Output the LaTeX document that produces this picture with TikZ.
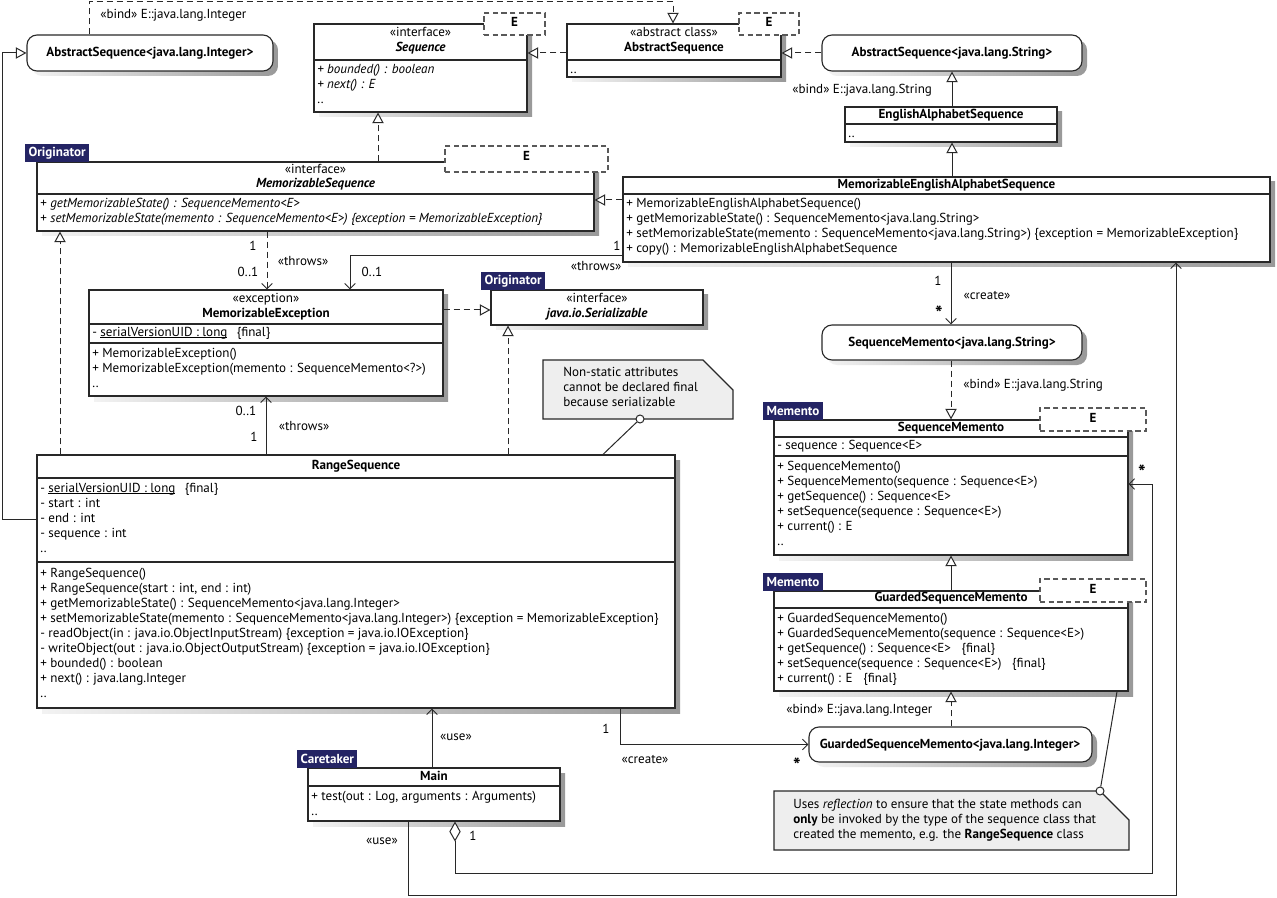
\documentclass[tikz,border=0pt]{standalone}
\usepackage{fontspec}
\setmainfont{PT Sans}
\usetikzlibrary{arrows.meta,fit}
\definecolor{tagblue}{RGB}{36,36,100}
\definecolor{notegray}{RGB}{238,238,238}
\definecolor{ink}{RGB}{40,40,40}
\newcommand\fs{\fontsize{9.8pt}{11pt}\selectfont}
\newcommand\uln[1]{\begingroup\setbox0\hbox{#1}\rlap{\rule[-1.3pt]{\wd0}{0.55pt}}\box0\endgroup}
\newcommand\mstar{\raisebox{-4.2pt}{\fontsize{15pt}{15pt}\selectfont\bfseries *}}
\tikzset{
  box/.style={draw=ink, fill=white, line width=0.85pt, inner sep=0pt},
  rbox/.style={box, rounded corners=7.5pt},
  tparam/.style={draw=black!65, dash pattern=on 4pt off 2.5pt, fill=white, line width=0.85pt, inner sep=0pt},
  mem/.style={anchor=west, inner sep=0pt, font=\fs, text height=7pt, text depth=2pt},
  ttl/.style={inner sep=0pt, font=\fs\bfseries, text height=7pt, text depth=2pt},
  lbl/.style={inner sep=0pt, font=\fs, text height=7pt, text depth=2pt},
  stereo/.style={fill=tagblue, text=white, font=\fs\bfseries, inner xsep=2.5pt, inner ysep=0pt, minimum height=13.5pt, anchor=south west},
  divl/.style={draw=ink, line width=0.85pt},
  conn/.style={draw=ink, line width=0.75pt},
  dsh/.style={dash pattern=on 4.5pt off 3pt},
  gtip/.style={-{Triangle[open,fill=white,length=8pt,width=8.5pt]}},
  otip/.style={-{Straight Barb[length=4pt,width=8pt]}},
  gen/.style={conn,gtip},
  real/.style={conn,dsh,gtip},
  dep/.style={conn,otip},
  depd/.style={conn,dsh,otip},
  agg/.style={conn,{Diamond[open,fill=white,length=15pt,width=8.5pt]}-{Straight Barb[length=4pt,width=8pt]}},
  notebox/.style={fill=notegray, draw=ink, line width=0.85pt},
  pinc/.style={circle, draw=ink, fill=white, line width=0.75pt, inner sep=0pt, minimum size=6pt},
}
\newcommand\mlines[4]{\foreach \mtxt [count=\mi from 0] in {#4} {\node[mem] (#1\mi) at (#2,#3+15*\mi) {\mtxt};}}
\newcommand\shadowbox[4]{\shade[left color=black!5,right color=black!40] (#1+5,#2+5) rectangle (#3+5,#4+5);}
\newcommand\clsbox[5]{\shadowbox{#2}{#3}{#4}{#5}\node[box,fit={(#2,#3)(#4,#5)}] (#1) {};}
\newcommand\rclsbox[5]{\shade[left color=black!5,right color=black!40,rounded corners=7.5pt] (#2+5,#3+5) rectangle (#4+5,#5+5);\node[rbox,fit={(#2,#3)(#4,#5)}] (#1) {};}
\begin{document}
\begin{tikzpicture}[x=0.75pt,y=-0.75pt]
\useasboundingbox[fill=white] (0,0) rectangle (1277,898);

% AbstractSequence<Integer>
\rclsbox{asi}{27}{35}{273}{71}
\node[ttl] (asit) at (150,53) {AbstractSequence<java.lang.Integer>};
\node[lbl,anchor=west] (bindA) at (100,15) {«bind» E::java.lang.Integer};

% Sequence
\clsbox{seq}{314}{24}{527}{112}
\draw[divl] (314,60) -- (527,60);
\node[lbl] (seqs) at (420.5,33) {«interface»};
\node[ttl] (seqt) at (420.5,48) {\itshape Sequence};
\mlines{seqm}{317}{70}{{\itshape + bounded() : boolean},{\itshape + next() : E},{..}}
\node[tparam,fit={(484,13)(545,35)}] (seqe) {};
\node[ttl] (seqet) at (514.5,23) {E};

% AbstractSequence
\clsbox{abs}{567}{24}{781}{77}
\draw[divl] (567,60) -- (781,60);
\node[lbl] (abss) at (674,33) {«abstract class»};
\node[ttl] (abst) at (674,48) {AbstractSequence};
\mlines{absm}{570}{70}{{..}}
\node[tparam,fit={(739,13)(799,35)}] (abse) {};
\node[ttl] (abset) at (769,23) {E};

% AbstractSequence<String>
\rclsbox{ass}{822}{35}{1082}{71}
\node[ttl] (asst) at (952,53) {AbstractSequence<java.lang.String>};
\node[lbl,anchor=west] (bindB) at (792,90) {«bind» E::java.lang.String};

% EnglishAlphabetSequence
\clsbox{eas}{845}{107}{1057}{142}
\draw[divl] (845,124) -- (1057,124);
\node[ttl] (east) at (951,115.5) {EnglishAlphabetSequence};
\mlines{easm}{848}{134}{{..}}

% MemorizableSequence
\clsbox{ms}{37}{162}{594}{231}
\draw[divl] (37,194) -- (594,194);
\node[lbl] (mss) at (315.5,170) {«interface»};
\node[ttl] (mst) at (315.5,184) {\itshape MemorizableSequence};
\mlines{msm}{40}{204}{{+ \textit{getMemorizableState() : SequenceMemento<E>}},{+ \textit{setMemorizableState(memento : SequenceMemento<E>) \{exception = MemorizableException\}}}}
\node[tparam,fit={(445,146)(608,172)}] (mse) {};
\node[ttl] (mset) at (526.5,157) {E};
\node[stereo] (mstag) at (25,162) {Originator};

% MemorizableEnglishAlphabetSequence
\clsbox{meas}{623}{177}{1270}{262}
\draw[divl] (623,194) -- (1270,194);
\node[ttl] (meast) at (946.5,185) {MemorizableEnglishAlphabetSequence};
\mlines{measm}{626}{204}{{+ MemorizableEnglishAlphabetSequence()},{+ getMemorizableState() : SequenceMemento<java.lang.String>},{+ setMemorizableState(memento : SequenceMemento<java.lang.String>) \{exception = MemorizableException\}},{+ copy() : MemorizableEnglishAlphabetSequence}}

% MemorizableException
\clsbox{mex}{89}{290}{443}{396}
\node[lbl] (mexs) at (266,299) {«exception»};
\node[ttl] (mext) at (266,314) {MemorizableException};
\draw[divl] (89,324) -- (443,324);
\mlines{mexa}{92}{333}{{- \uln{serialVersionUID : long}\hspace{7pt}\{final\}}}
\draw[divl] (89,343) -- (443,343);
\mlines{mexm}{92}{354}{{+ MemorizableException()},{+ MemorizableException(memento : SequenceMemento<?>)},{..}}

% Serializable
\clsbox{ser}{491}{290}{703}{325}
\node[lbl] (sers) at (597,299) {«interface»};
\node[ttl] (sert) at (597,314) {\itshape java.io.Serializable};
\node[stereo] (sertag) at (481,290) {Originator};

% RangeSequence
\clsbox{rs}{37}{455}{675}{708}
\node[ttl] (rst) at (356,466) {RangeSequence};
\draw[divl] (37,478) -- (675,478);
\mlines{rsa}{40}{489}{{- \uln{serialVersionUID : long}\hspace{7pt}\{final\}},{- start : int},{- end : int},{- sequence : int},{..}}
\draw[divl] (37,562) -- (675,562);
\mlines{rsm}{40}{574}{{+ RangeSequence()},{+ RangeSequence(start : int, end : int)},{+ getMemorizableState() : SequenceMemento<java.lang.Integer>},{+ setMemorizableState(memento : SequenceMemento<java.lang.Integer>) \{exception = MemorizableException\}},{- readObject(in : java.io.ObjectInputStream) \{exception = java.io.IOException\}},{- writeObject(out : java.io.ObjectOutputStream) \{exception = java.io.IOException\}},{+ bounded() : boolean},{+ next() : java.lang.Integer},{..}}

% Main
\clsbox{main}{308}{768}{560}{821}
\node[ttl] (maint) at (434,777) {Main};
\draw[divl] (308,786) -- (560,786);
\mlines{mainm}{311}{797}{{+ test(out : Log, arguments : Arguments)},{..}}
\node[stereo] (maintag) at (297,768) {Caretaker};

% SequenceMemento<String>
\rclsbox{smsr}{822}{325}{1082}{360}
\node[ttl] (smsrt) at (952,343) {SequenceMemento<java.lang.String>};
\node[lbl,anchor=west] (bindC) at (963,385) {«bind» E::java.lang.String};

% SequenceMemento
\clsbox{sm}{774}{420}{1128}{555}
\node[ttl] (smt) at (951,428) {SequenceMemento};
\draw[divl] (774,437) -- (1128,437);
\mlines{sma}{777}{446}{{- sequence : Sequence<E>}}
\draw[divl] (774,456) -- (1128,456);
\mlines{smm}{777}{467}{{+ SequenceMemento()},{+ SequenceMemento(sequence : Sequence<E>)},{+ getSequence() : Sequence<E>},{+ setSequence(sequence : Sequence<E>)},{+ current() : E},{..}}
\node[tparam,fit={(1040,408)(1146,431)}] (sme) {};
\node[ttl] (smet) at (1093,419) {E};
\node[stereo] (smtag) at (763,420) {Memento};

% GuardedSequenceMemento
\clsbox{gsm}{774}{591}{1128}{691}
\node[ttl] (gsmt) at (951,598) {GuardedSequenceMemento};
\draw[divl] (774,608) -- (1128,608);
\mlines{gsmm}{777}{619}{{+ GuardedSequenceMemento()},{+ GuardedSequenceMemento(sequence : Sequence<E>)},{+ getSequence() : Sequence<E>\hspace{8pt}\{final\}},{+ setSequence(sequence : Sequence<E>)\hspace{8pt}\{final\}},{+ current() : E\hspace{8pt}\{final\}}}
\node[tparam,fit={(1040,579)(1146,602)}] (gsme) {};
\node[ttl] (gsmet) at (1093,590) {E};
\node[stereo] (gsmtag) at (763,591) {Memento};

% GuardedSequenceMemento<Integer>
\rclsbox{gsmi}{809}{727}{1092}{762}
\node[ttl] (gsmit) at (950,745) {GuardedSequenceMemento<java.lang.Integer>};
\node[lbl,anchor=west] (bindD) at (786,710) {«bind» E::java.lang.Integer};

% Notes
\draw[notebox] (543,360) -- (703,360) -- (733,390) -- (733,419) -- (543,419) -- cycle;
\mlines{noa}{563}{373}{{Non-static attributes},{cannot be declared final},{because serializable}}
\node[pinc] (noap) at (640,419) {};
\draw[notebox] (774,791) -- (1100,791) -- (1129,820) -- (1129,850) -- (774,850) -- cycle;
\mlines{nob}{793}{805}{{Uses \textit{reflection} to ensure that the state methods can},{\textbf{only} be invoked by the type of the sequence class that},{created the memento, e.g. the \textbf{RangeSequence} class}}
\node[pinc] (nobp) at (1100,791) {};

% Connectors
\draw[real] (asi.north -| 89,0) -- (89,2) -- (673,2) -- (abs.north -| 673,0);
\draw[real] (abs.west |- 0,53) -- (seq.east |- 0,53);
\draw[real] (ass.west) -- (abs.east |- ass.west);
\draw[gen] (eas.north -| 952,0) -- (ass.south -| 952,0);
\draw[gen] (meas.north -| 952,0) -- (eas.south -| 952,0);
\draw[real] (meas.west |- 0,200) -- (ms.east |- 0,200);
\draw[real] (ms.north -| 378,0) -- (seq.south -| 378,0);
\draw[depd] (ms.south -| 267,0) -- (mex.north -| 267,0);
\draw[dep] (meas.west |- 0,256) -- (350,256) -- (mex.north -| 350,0);
\draw[real] (mex.east |- 0,310) -- (ser.west |- 0,310);
\draw[real] (rs.north -| 508,0) -- (ser.south -| 508,0);
\draw[dep] (rs.north -| 266,0) -- (mex.south -| 266,0);
\draw[real] (rs.north -| 60,0) -- (ms.south -| 60,0);
\draw[gen] (rs.west |- 0,519) -- (2,519) -- (2,53) -- (asi.west);
\draw[dep] (main.north -| 432,0) -- (rs.south -| 432,0);
\draw[dep] (rs.south -| 620,0) -- (620,744.5) -- (gsmi.west);
\draw[agg] (main.south -| 455,0) -- (455,873) -- (1152,873) -- (1152,484) -- (sm.east |- 0,484);
\draw[dep] (main.south -| 408,0) -- (408,895) -- (1176,895) -- (meas.south -| 1176,0);
\draw[dep] (meas.south -| 951,0) -- (smsr.north -| 951,0);
\draw[real] (smsr.south -| 951,0) -- (sm.north -| 951,0);
\draw[gen] (gsm.north -| 951,0) -- (sm.south -| 951,0);
\draw[real] (gsmi.north -| 951,0) -- (gsm.south -| 951,0);
\draw[conn] (noap) -- (rs.north -| 603,0);
\draw[conn] (nobp) -- (gsm.south -| 1117,0);

% Connector labels
\node[lbl] (la1) at (253,247) {1};
\node[lbl] (la2) at (248,273) {0..1};
\node[lbl] (la3) at (303,262) {«throws»};
\node[lbl] (lb1) at (617,247) {1};
\node[lbl] (lb2) at (372,273) {0..1};
\node[lbl] (lb3) at (596,267) {«throws»};
\node[lbl] (lc1) at (246,412) {0..1};
\node[lbl] (lc2) at (254,438) {1};
\node[lbl] (lc3) at (304,427) {«throws»};
\node[lbl] (ld1) at (938,282) {1};
\node[lbl] (ld2) at (987,296) {«create»};
\node[lbl] (ld3) at (939,312) {\mstar};
\node[lbl] (le1) at (456,737) {«use»};
\node[lbl] (lf1) at (606,730) {1};
\node[lbl] (lf2) at (645,760) {«create»};
\node[lbl] (lf3) at (797,764) {\mstar};
\node[lbl] (lg1) at (473,837) {1};
\node[lbl] (lg2) at (1142,471) {\mstar};
\node[lbl] (lh1) at (382,841) {«use»};
\end{tikzpicture}
\end{document}
